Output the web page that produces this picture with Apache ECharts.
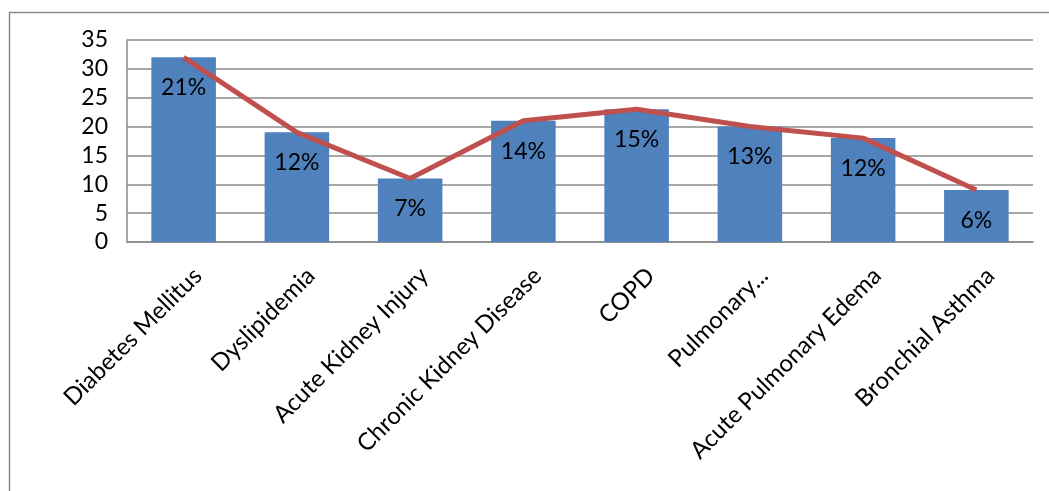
<!DOCTYPE html>
<html>
<head>
<meta charset="utf-8">
<script src="https://cdn.jsdelivr.net/npm/echarts@6/dist/echarts.min.js"></script>
<style>
  html, body { margin: 0; padding: 0; background: #fff; }
  #chart { width: 1049px; height: 491px; }
</style>
</head>
<body>
<div id="chart"></div>
<script>
const categories = [
  "Diabetes Mellitus",
  "Dyslipidemia",
  "Acute Kidney Injury",
  "Chronic Kidney Disease",
  "COPD",
  "Pulmonary...",
  "Acute Pulmonary Edema",
  "Bronchial Asthma",
];
const counts = [32, 19, 11, 21, 23, 20, 18, 9];
const percents = ["21%", "12%", "7%", "14%", "15%", "13%", "12%", "6%"];
const trend = [32, 19, 11, 21, 23, 20, 18, 9];
const yTicks = [0, 5, 10, 15, 20, 25, 30, 35];

const font = "Lato, 'Open Sans', sans-serif";
const gridColor = "#8a8a8a";

const chart = echarts.init(document.getElementById("chart"), null, { renderer: "canvas" });

const option = {
  animation: false,
  backgroundColor: "#fff",
  textStyle: { fontFamily: font },
  graphic: [
    {
      type: "rect",
      left: 7,
      top: 10,
      shape: { width: 1200, height: 700 },
      style: { fill: "none", stroke: gridColor, lineWidth: 1.5 },
      silent: true,
    },
  ],
  grid: {
    left: 127,
    right: 16,
    top: 40,
    bottom: 249,
  },
  xAxis: {
    type: "category",
    data: categories,
    axisTick: { show: false },
    axisLine: { show: true, lineStyle: { color: gridColor, width: 1.5 } },
    axisLabel: {
      interval: 0,
      rotate: 45,
      margin: 44,
      fontSize: 24,
      color: "#000",
      fontFamily: font,
      // nudge the rotated labels to sit like the original's
      padding: [72, -20, 0, 0],
    },
  },
  yAxis: {
    type: "value",
    min: yTicks[0],
    max: yTicks[yTicks.length - 1],
    interval: 5,
    axisTick: { show: false },
    axisLine: { show: true, lineStyle: { color: gridColor, width: 1.5 } },
    axisLabel: {
      margin: 19,
      fontSize: 23,
      color: "#000",
      fontFamily: font,
    },
    splitLine: { show: true, lineStyle: { color: gridColor, width: 1.5 } },
  },
  series: [
    {
      type: "bar",
      data: counts,
      barWidth: "57%",
      itemStyle: { color: "#4F81BD" },
      label: {
        show: true,
        position: "insideTop",
        distance: 19,
        fontSize: 23,
        color: "#000",
        fontFamily: font,
        formatter: (p) => percents[p.dataIndex],
      },
      z: 2,
    },
    {
      type: "line",
      data: trend,
      symbol: "none",
      lineStyle: { color: "#C0504D", width: 5 },
      z: 3,
    },
  ],
};

chart.setOption(option);
</script>
</body>
</html>
